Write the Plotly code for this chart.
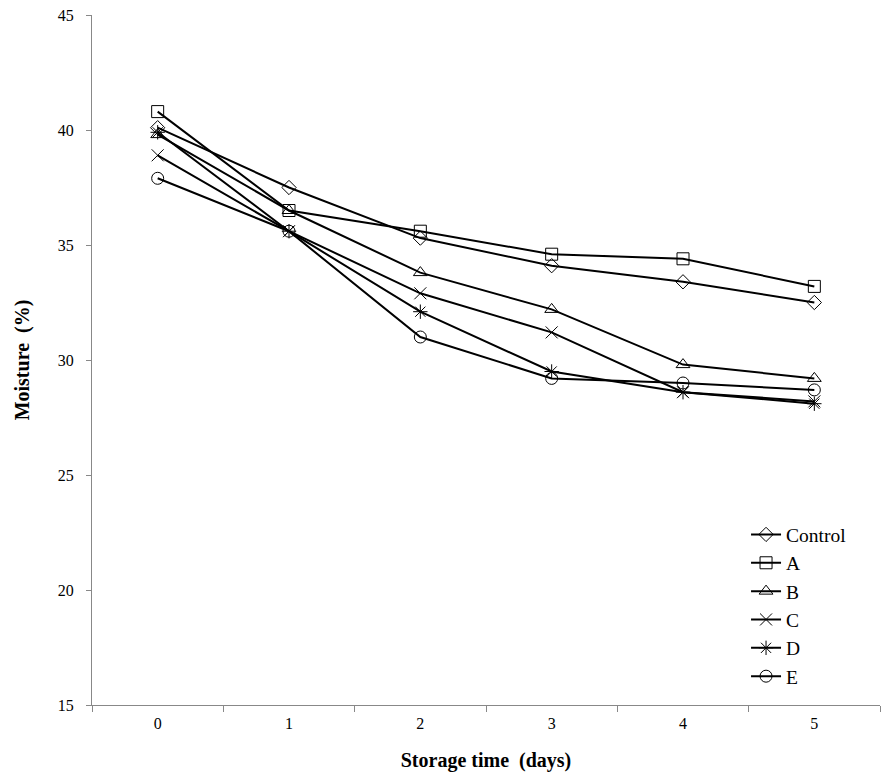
import plotly.graph_objects as go

days = ["0", "1", "2", "3", "4", "5"]
series_names = ["Control", "A", "B", "C", "D", "E"]
control = [40.1, 37.5, 35.3, 34.1, 33.4, 32.5]
a_vals = [40.8, 36.5, 35.6, 34.6, 34.4, 33.2]
b_vals = [39.8, 36.5, 33.8, 32.2, 29.8, 29.2]
c_vals = [38.9, 35.6, 32.9, 31.2, 28.6, 28.2]
d_vals = [39.9, 35.6, 32.1, 29.5, 28.6, 28.1]
e_vals = [37.9, 35.6, 31.0, 29.2, 29.0, 28.7]

values = [control, a_vals, b_vals, c_vals, d_vals, e_vals]
symbols = ["diamond-open", "square-open", "triangle-up-open", "x-thin-open", "asterisk-open", "circle-open"]
sizes = [11, 12, 12, 12, 12, 12]

fig = go.Figure()
for name, vals, sym, sz in zip(series_names, values, symbols, sizes):
    fig.add_trace(go.Scatter(
        x=days, y=vals, name=name, mode="lines+markers",
        line=dict(color="black", width=2),
        marker=dict(symbol=sym, size=sz, color="black", line=dict(color="black", width=1)),
    ))

font_family = "Liberation Serif, Times New Roman, serif"
fig.update_layout(
    width=896, height=780,
    margin=dict(l=84, r=24, t=7, b=83),
    paper_bgcolor="white", plot_bgcolor="white",
    font=dict(family=font_family, color="black", size=16),
    showlegend=True,
    legend=dict(x=0.83, y=0.275, xanchor="left", yanchor="top",
                font=dict(size=19.5, family=font_family), tracegroupgap=0,
                bgcolor="rgba(0,0,0,0)"),
    xaxis=dict(type="category", range=[-0.5, 5.5], tickson="boundaries",
               ticks="outside", ticklen=6, tickcolor="#888", showline=True,
               linecolor="#888", linewidth=1, showgrid=False, zeroline=False,
               ticklabelstandoff=4, automargin=False,
               title=dict(text="<b>Storage time  (days)</b>", font=dict(size=20), standoff=21),
               tickfont=dict(size=16)),
    yaxis=dict(range=[15, 45], dtick=5, ticks="outside", ticklen=5, tickcolor="#888",
               showline=True, linecolor="#888", linewidth=1, showgrid=False, zeroline=False,
               ticklabelstandoff=9, ticklabeloverflow="allow", automargin=False,
               title=dict(text="<b>Moisture  (%)</b>", font=dict(size=20), standoff=22),
               tickfont=dict(size=16)),
)

fig.write_html("out.html")
